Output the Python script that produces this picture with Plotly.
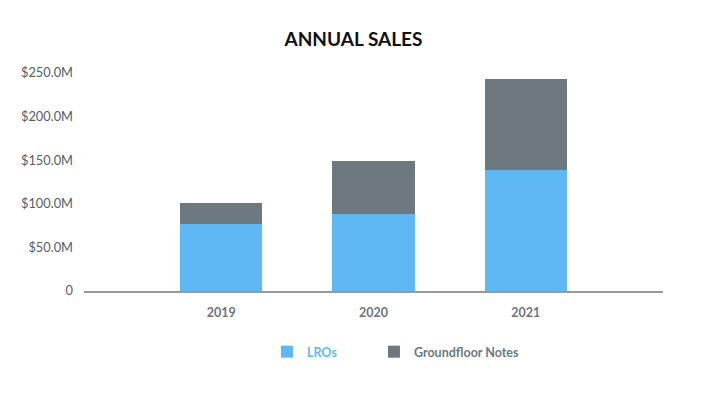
import plotly.graph_objects as go

years = ["2019", "2020", "2021"]
lros = [77, 88, 139]            # $M
groundfloor = [24, 61, 104]     # $M
ytick_vals = [0, 50, 100, 150, 200, 250]
ytick_text = ["0", "$50.0M", "$100.0M", "$150.0M", "$200.0M", "$250.0M"]

BLUE = "#5DB8F4"
GREY = "#6D7880"

fig = go.Figure()
fig.add_trace(go.Bar(x=years, y=lros, name=f"<b><span style='color:{BLUE}'>LROs</span></b>",
                     marker=dict(color=BLUE, line=dict(width=0)), legend="legend"))
fig.add_trace(go.Bar(x=years, y=groundfloor, name=f"<b><span style='color:{GREY}'>Groundfloor Notes</span></b>",
                     marker=dict(color=GREY, line=dict(width=0)), legend="legend2"))

leg_common = dict(orientation="h", y=-0.28, yanchor="middle", xanchor="left",
                  font=dict(size=12.5, family="Lato, sans-serif"), bgcolor="rgba(0,0,0,0)")

fig.update_layout(
    barmode="stack",
    bargap=0.46,
    width=707, height=394,
    margin=dict(l=84, r=44, t=73, b=103),
    paper_bgcolor="white", plot_bgcolor="white",
    font=dict(family="Lato, sans-serif", color="#555d66"),
    title=dict(text="<b>ANNUAL SALES</b>", x=0.5, xanchor="center", y=0.9, yanchor="middle",
               font=dict(size=19, color="#111111", family="Lato, sans-serif")),
    xaxis=dict(range=[-0.9, 2.9], showgrid=False, showline=True, linecolor="#999999", linewidth=2,
               ticks="", tickfont=dict(size=12.5, color="#6c757d", family="Lato, sans-serif"),
               tickprefix="<b>", ticksuffix="</b>", ticklabelstandoff=9),
    yaxis=dict(range=[0, 250], tickvals=ytick_vals, ticktext=ytick_text, showgrid=False,
               zeroline=False, showline=False, ticks="", ticklabelstandoff=10,
               tickfont=dict(size=12.8, color="#555d66", family="Lato, sans-serif")),
    legend=dict(x=0.316, **leg_common),
    legend2=dict(x=0.5008, **leg_common),
    showlegend=True,
)

fig.write_html("out.html", config={"displayModeBar": False},
               post_script="document.body.style.margin='0';")
